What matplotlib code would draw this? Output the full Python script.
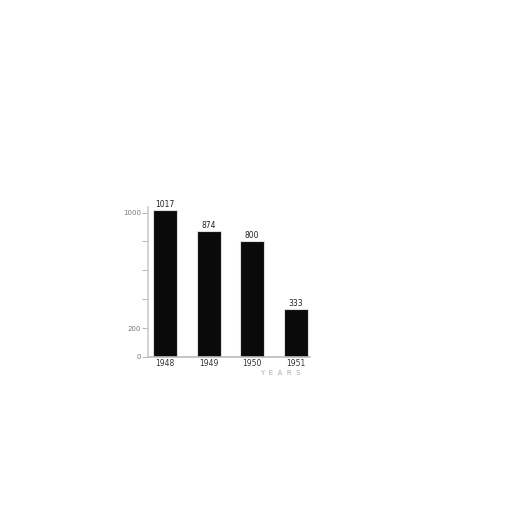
import matplotlib.pyplot as plt

years = ["1948", "1949", "1950", "1951"]
values = [1017, 874, 800, 333]
yticks = [0, 200, 400, 600, 800, 1000]
ytick_labels = ["0", "200", "", "", "", "1000"]

fig = plt.figure(figsize=(5.12, 5.12), dpi=100)
ax = fig.add_axes([0.289, 0.303, 0.316, 0.293])

x = range(len(years))
ax.bar(x, values, width=0.55, color="#0a0a0a", edgecolor="#dddddd", linewidth=0.8)

for xi, v in zip(x, values):
    ax.text(xi, v + 8, str(v), ha="center", va="bottom", fontsize=5.5, color="#222222")

ax.set_xlim(-0.39, 3.32)
ax.set_ylim(0, 1040)
ax.set_yticks(yticks)
ax.set_yticklabels(ytick_labels)
ax.set_xticks(list(x))
ax.set_xticklabels(years)
ax.tick_params(axis="y", labelsize=5, colors="#aaaaaa", length=4, width=0.6, pad=1)
ax.tick_params(axis="x", labelsize=5.5, colors="#333333", length=0, pad=1.5)
for lab in ax.get_yticklabels():
    lab.set_color("#777777")

for side in ["top", "right"]:
    ax.spines[side].set_visible(False)
ax.spines["left"].set_color("#cccccc")
ax.spines["bottom"].set_color("#bbbbbb")
ax.spines["left"].set_linewidth(1.2)
ax.spines["bottom"].set_linewidth(1.2)

fig.text(0.548, 0.268, "Y  E  A  R  S", fontsize=5, color="#aaaaaa", ha="center")

fig.savefig("out.png", dpi=100, facecolor="white")
